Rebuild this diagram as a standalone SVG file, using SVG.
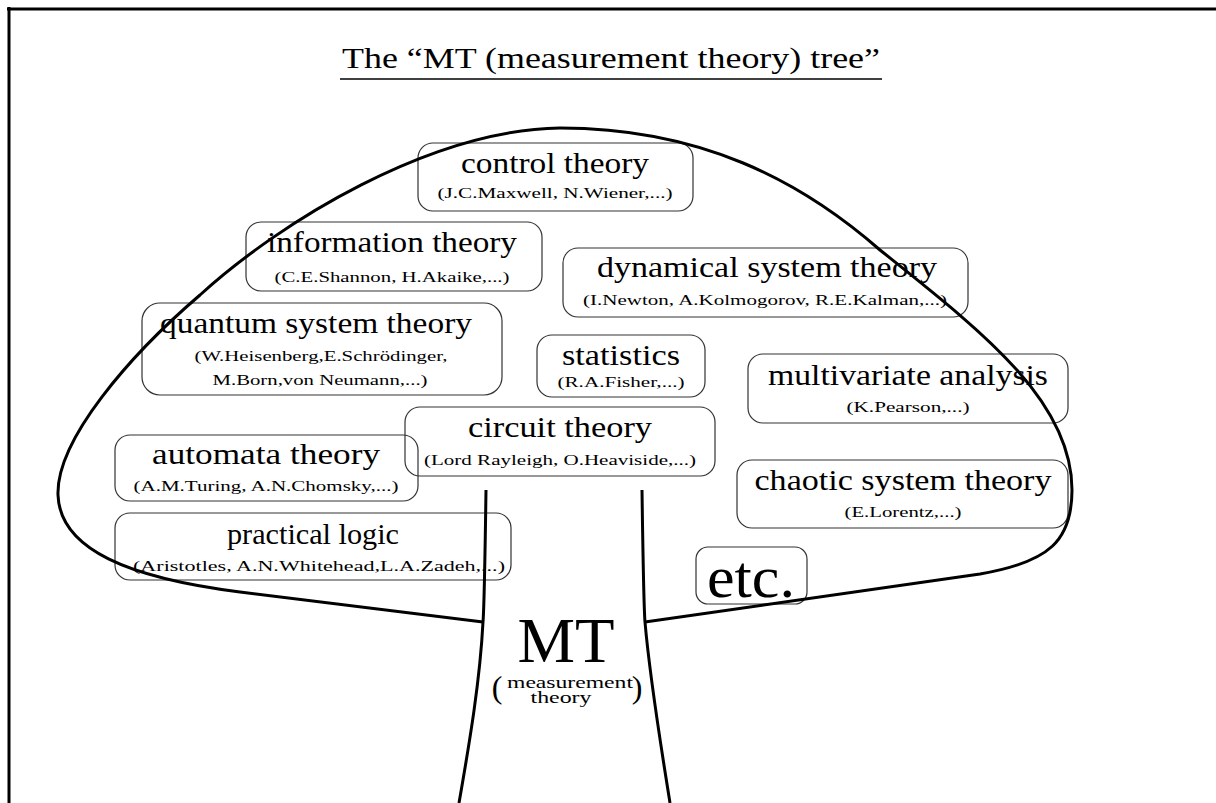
<svg xmlns="http://www.w3.org/2000/svg" width="1216" height="803" viewBox="0 0 1216 803">
<style>
text{font-family:"Liberation Serif","Times New Roman",serif;fill:#000;text-anchor:middle}
.t{font-size:29px}
.s{font-size:15px}
.box{fill:none;stroke:#333;stroke-width:1.2}
.thick{fill:none;stroke:#000;stroke-width:3;stroke-linejoin:round}
</style>
<rect width="1216" height="803" fill="#fff"/>
<g id="frame">
<path class="thick" d="M7,9 H1216 M9,7 V803"/>
</g>
<g id="title">
<text x="611" y="68" style="font-size:29px" textLength="538" lengthAdjust="spacingAndGlyphs">The “MT (measurement theory) tree”</text>
<line x1="340" y1="79" x2="882" y2="79" stroke="#000" stroke-width="1.5"/>
</g>
<g id="control">
<rect class="box" x="418" y="143" width="275" height="68" rx="15"/>
<text class="t" x="555" y="173" textLength="188" lengthAdjust="spacingAndGlyphs">control theory</text>
<text class="s" x="555" y="198" textLength="235" lengthAdjust="spacingAndGlyphs">(J.C.Maxwell, N.Wiener,...)</text>
</g>
<g id="information">
<rect class="box" x="246" y="222" width="296" height="69" rx="15"/>
<text class="t" x="392" y="252" textLength="250" lengthAdjust="spacingAndGlyphs">information theory</text>
<text class="s" x="392" y="282" textLength="235" lengthAdjust="spacingAndGlyphs">(C.E.Shannon, H.Akaike,...)</text>
</g>
<g id="quantum">
<rect class="box" x="142" y="303" width="360" height="92" rx="18"/>
<text class="t" x="316" y="333" textLength="312" lengthAdjust="spacingAndGlyphs">quantum system theory</text>
<text class="s" x="321" y="361" textLength="253" lengthAdjust="spacingAndGlyphs">(W.Heisenberg,E.Schrödinger,</text>
<text class="s" x="320" y="385" textLength="215" lengthAdjust="spacingAndGlyphs">M.Born,von Neumann,...)</text>
</g>
<g id="dynamical">
<rect class="box" x="563" y="248" width="405" height="69" rx="15"/>
<text class="t" x="767" y="277" textLength="340" lengthAdjust="spacingAndGlyphs">dynamical system theory</text>
<text class="s" x="765" y="305" textLength="364" lengthAdjust="spacingAndGlyphs">(I.Newton, A.Kolmogorov, R.E.Kalman,...)</text>
</g>
<g id="statistics">
<rect class="box" x="537" y="335" width="168" height="62" rx="15"/>
<text class="t" x="621" y="365" textLength="118" lengthAdjust="spacingAndGlyphs">statistics</text>
<text class="s" x="621" y="387" textLength="127" lengthAdjust="spacingAndGlyphs">(R.A.Fisher,...)</text>
</g>
<g id="multivariate">
<rect class="box" x="748" y="354" width="320" height="69" rx="15"/>
<text class="t" x="908" y="385" textLength="280" lengthAdjust="spacingAndGlyphs">multivariate analysis</text>
<text class="s" x="908" y="412" textLength="123" lengthAdjust="spacingAndGlyphs">(K.Pearson,...)</text>
</g>
<g id="circuit">
<rect class="box" x="405" y="407" width="310" height="69" rx="15"/>
<text class="t" x="560" y="437" textLength="184" lengthAdjust="spacingAndGlyphs">circuit theory</text>
<text class="s" x="560" y="465" textLength="272" lengthAdjust="spacingAndGlyphs">(Lord Rayleigh, O.Heaviside,...)</text>
</g>
<g id="automata">
<rect class="box" x="115" y="435" width="303" height="66" rx="15"/>
<text class="t" x="266" y="464" textLength="228" lengthAdjust="spacingAndGlyphs">automata theory</text>
<text class="s" x="266" y="491" textLength="265" lengthAdjust="spacingAndGlyphs">(A.M.Turing, A.N.Chomsky,...)</text>
</g>
<g id="practical">
<rect class="box" x="115" y="513" width="396" height="67" rx="15"/>
<text class="t" x="313" y="544" textLength="172" lengthAdjust="spacingAndGlyphs">practical logic</text>
<text class="s" x="319" y="571" textLength="372" lengthAdjust="spacingAndGlyphs">(Aristotles, A.N.Whitehead,L.A.Zadeh,...)</text>
</g>
<g id="chaotic">
<rect class="box" x="737" y="460" width="331" height="68" rx="15"/>
<text class="t" x="903" y="490" textLength="297" lengthAdjust="spacingAndGlyphs">chaotic system theory</text>
<text class="s" x="903" y="517" textLength="117" lengthAdjust="spacingAndGlyphs">(E.Lorentz,...)</text>
</g>
<g id="etc">
<rect class="box" x="696" y="547" width="111" height="57" rx="12"/>
<text x="751" y="597" style="font-size:60px" textLength="88" lengthAdjust="spacingAndGlyphs">etc.</text>
</g>
<g id="tree">
<path class="thick" d="M483,622 L240,592 C130,578 60,550 58,495 C56,440 130,355 200,295 C280,222 430,130 560,128 C700,128 800,180 880,250 C980,330 1072,400 1072,490 C1072,540 1050,562 980,574 L645,622"/>
<path class="thick" d="M486,490 C485,560 484,610 483,622 C480,680 470,740 459,803"/>
<path class="thick" d="M642,490 C643,560 644,610 645,622 C650,680 660,740 670,803"/>
</g>
<g id="mt">
<text x="566" y="662" style="font-size:64px" textLength="97" lengthAdjust="spacingAndGlyphs">MT</text>
<text x="497" y="698" style="font-size:32px">(</text>
<text x="637" y="698" style="font-size:32px">)</text>
<text x="570" y="688" style="font-size:17px" textLength="126" lengthAdjust="spacingAndGlyphs">measurement</text>
<text x="561" y="703" style="font-size:17px" textLength="61" lengthAdjust="spacingAndGlyphs">theory</text>
</g>
</svg>
